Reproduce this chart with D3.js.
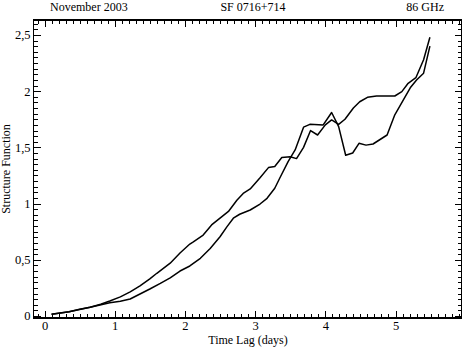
<!DOCTYPE html>
<html>
<head>
<meta charset="utf-8">
<script src="https://cdn.jsdelivr.net/npm/d3@7"></script>
<style>
  body { margin: 0; background: #fff; }
  svg text { font-family: "Liberation Serif", "DejaVu Serif", serif; fill: #000; }
</style>
</head>
<body>
<svg width="463" height="348"></svg>
<script>
// upper curve at mid lags (ends on the plateau branch)
var lagA = [0.1, 0.35, 0.5, 0.65, 0.8, 0.93, 1.08, 1.22, 1.36, 1.5, 1.6, 1.79, 1.93, 2.07, 2.12, 2.26, 2.38, 2.5, 2.62, 2.74, 2.83, 2.93, 3.07, 3.19, 3.28, 3.38, 3.5, 3.59, 3.69, 3.79, 3.89, 4.0, 4.09, 4.19, 4.28, 4.4, 4.49, 4.6, 4.73, 4.99, 5.09, 5.18, 5.29, 5.4, 5.49];
var sfA  = [0.015, 0.038, 0.06, 0.078, 0.104, 0.133, 0.17, 0.215, 0.268, 0.33, 0.38, 0.47, 0.56, 0.64, 0.66, 0.72, 0.81, 0.87, 0.93, 1.03, 1.09, 1.13, 1.23, 1.32, 1.33, 1.41, 1.417, 1.40, 1.50, 1.65, 1.61, 1.70, 1.744, 1.705, 1.75, 1.85, 1.906, 1.945, 1.957, 1.957, 1.996, 2.07, 2.12, 2.28, 2.48];
// lower curve at mid lags (the one with the dip after 4 days)
var lagB = [0.1, 0.35, 0.65, 0.79, 0.93, 1.08, 1.22, 1.36, 1.5, 1.65, 1.79, 1.93, 2.07, 2.22, 2.36, 2.5, 2.6, 2.69, 2.78, 2.93, 3.07, 3.17, 3.28, 3.35, 3.47, 3.57, 3.69, 3.78, 3.97, 4.09, 4.19, 4.29, 4.39, 4.48, 4.58, 4.68, 4.88, 4.99, 5.11, 5.21, 5.3, 5.4, 5.49];
var sfB  = [0.015, 0.038, 0.078, 0.098, 0.118, 0.131, 0.151, 0.196, 0.24, 0.29, 0.34, 0.40, 0.445, 0.513, 0.60, 0.705, 0.795, 0.87, 0.905, 0.943, 0.996, 1.047, 1.136, 1.225, 1.373, 1.477, 1.68, 1.705, 1.70, 1.81, 1.684, 1.43, 1.45, 1.536, 1.52, 1.53, 1.61, 1.79, 1.92, 2.03, 2.10, 2.16, 2.40];

var xMajor = [0, 1, 2, 3, 4, 5];
var yMajor = [0, 0.5, 1, 1.5, 2, 2.5];
var yLabels = ["0", "0,5", "1", "1,5", "2", "2,5"];
var titles = ["November 2003", "SF 0716+714", "86 GHz"];

var svg = d3.select("svg");
var pLeft = 33.5, pRight = 461.5, pTop = 20, pBottom = 318;

var x = d3.scaleLinear().domain([-0.157, 5.94]).range([pLeft, pRight]);
var y = d3.scaleLinear().domain([-0.0178, 2.633]).range([pBottom, pTop]);

var xMinor = d3.range(-1, 60).map(function(i) { return i / 10; })
  .filter(function(v) { return Math.round(v * 10) % 10 !== 0 && x(v) > pLeft + 1 && x(v) < pRight - 1; });
var yMinor = d3.range(0, 53).map(function(i) { return i / 20; })
  .filter(function(v) { return Math.round(v * 20) % 10 !== 0 && y(v) > pTop + 1; });

function addAxis(axisFn, scale, ticks, size, transform, fmt) {
  var g = svg.append("g").attr("transform", transform)
    .call(axisFn(scale).tickValues(ticks).tickSizeInner(-size).tickSizeOuter(0)
      .tickPadding(3).tickFormat(fmt));
  g.attr("font-family", null).attr("font-size", null);
  g.select(".domain").remove();
  g.selectAll("line").attr("stroke", "#000").attr("stroke-width", 1).attr("shape-rendering", "crispEdges");
  g.selectAll("text").attr("font-size", "12.5px");
  return g;
}

var none = function() { return ""; };
addAxis(d3.axisBottom, x, xMajor, 7, "translate(0," + pBottom + ")", d3.format("d"));
addAxis(d3.axisBottom, x, xMinor, 4, "translate(0," + pBottom + ")", none);
addAxis(d3.axisTop, x, xMajor, 7, "translate(0," + pTop + ")", none);
addAxis(d3.axisTop, x, xMinor, 4, "translate(0," + pTop + ")", none);
addAxis(d3.axisLeft, y, yMajor, 7, "translate(" + pLeft + ",0)", function(d, i) { return yLabels[i]; });
addAxis(d3.axisLeft, y, yMinor, 4, "translate(" + pLeft + ",0)", none);
addAxis(d3.axisRight, y, yMajor, 7, "translate(" + pRight + ",0)", none);
addAxis(d3.axisRight, y, yMinor, 4, "translate(" + pRight + ",0)", none);

svg.append("rect")
  .attr("x", pLeft).attr("y", pTop)
  .attr("width", pRight - pLeft).attr("height", pBottom - pTop)
  .attr("fill", "none").attr("stroke", "#000").attr("stroke-width", 1.2)
  .attr("shape-rendering", "crispEdges");

var line = d3.line()
  .x(function(d) { return x(d[0]); })
  .y(function(d) { return y(d[1]); });

[[lagA, sfA], [lagB, sfB]].forEach(function(s) {
  svg.append("path")
    .datum(d3.zip(s[0], s[1]))
    .attr("d", line)
    .attr("fill", "none")
    .attr("stroke", "#000")
    .attr("stroke-width", 1.5)
    .attr("stroke-linejoin", "round");
});

// titles along the top
svg.append("text").attr("x", 50).attr("y", 11).attr("font-size", "12px").text(titles[0]);
svg.append("text").attr("x", 253).attr("y", 11).attr("font-size", "12px").attr("text-anchor", "middle").text(titles[1]);
svg.append("text").attr("x", 444).attr("y", 11).attr("font-size", "12px").attr("text-anchor", "end").text(titles[2]);

svg.append("text")
  .attr("x", 248).attr("y", 344)
  .attr("text-anchor", "middle").attr("font-size", "12px")
  .text("Time Lag (days)");

svg.append("text")
  .attr("transform", "translate(10," + (pTop + pBottom) / 2 + ") rotate(-90)")
  .attr("text-anchor", "middle").attr("font-size", "12px")
  .text("Structure Function");
</script>
</body>
</html>
